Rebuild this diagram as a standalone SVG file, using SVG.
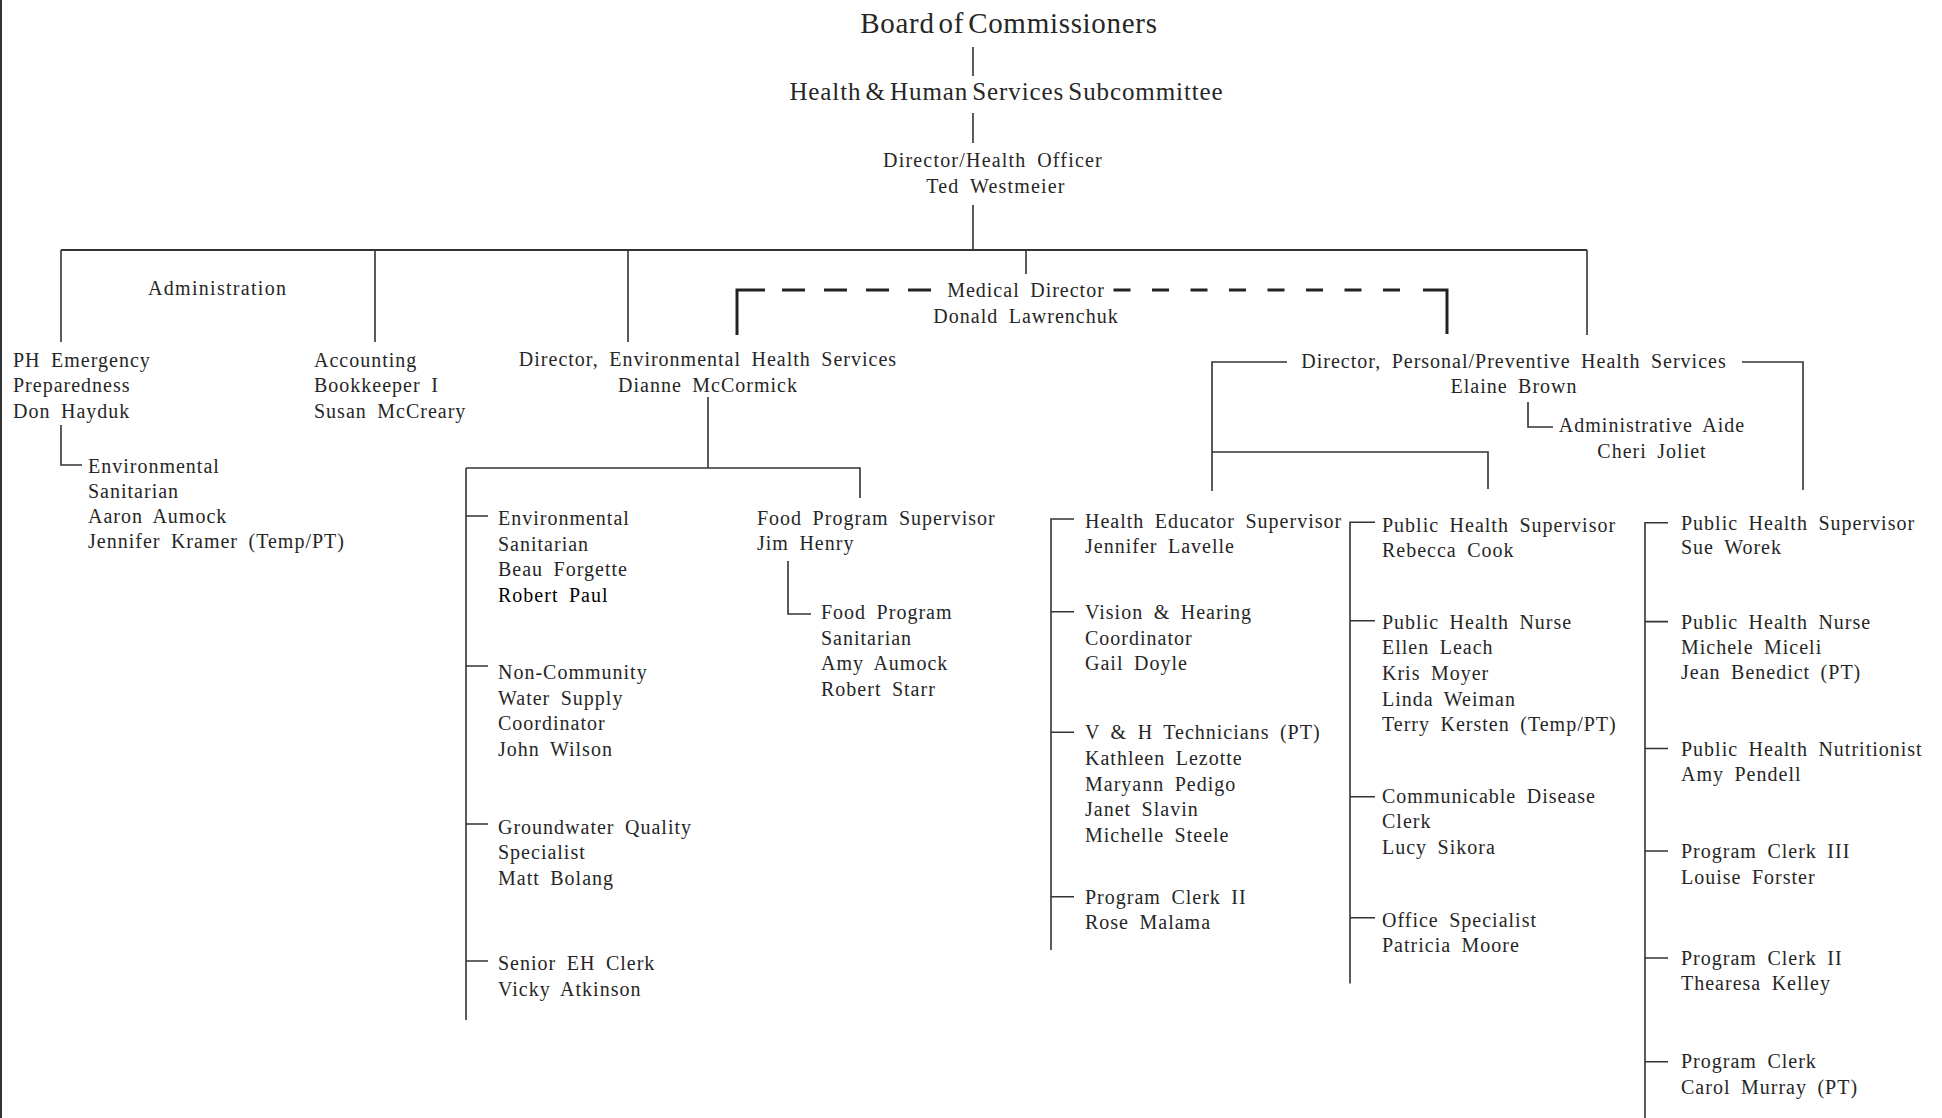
<svg xmlns="http://www.w3.org/2000/svg" width="1942" height="1118" viewBox="0 0 1942 1118">
<style>
.t{font-family:"Liberation Serif","Times New Roman",serif;font-size:20px;fill:#262626;letter-spacing:1px;word-spacing:4.5px}
.c{text-anchor:middle}
.ln{stroke:#333;stroke-width:1.6;fill:none}
.bar{stroke:#333;stroke-width:2;fill:none}
.dash{stroke:#222;stroke-width:3;fill:none}
</style>
<rect width="1942" height="1118" fill="#fff"/>
<g id="connectors">
<line class="bar" x1="1" y1="0" x2="1" y2="1118"/>
<path class="ln" d="M973 47V76M973 113V143M973 205V250"/>
<path class="bar" d="M61 250H1587"/>
<path class="ln" d="M61 250V342M375 250V342M628 250V342M1026 250V274M1587 250V335"/>
<path class="dash" d="M737 335V290H765M1447 334V290H1423"/>
<path class="dash" d="M782 290H935" stroke-dasharray="23 19"/>
<path class="dash" d="M1400 290H1113" stroke-dasharray="17 21.5"/>
<path class="ln" d="M61 425V465H82"/>
<path class="ln" d="M708 397V468M466 468H860V498M466 468V1020"/>
<path class="ln" d="M466 516H488M466 666H488M466 824H488M466 961H488"/>
<path class="ln" d="M788 561V614H811"/>
<path class="ln" d="M1287 362H1212V491M1212 452H1488V489M1742 362H1803V490"/>
<path class="ln" d="M1528 402V427H1553"/>
<path class="ln" d="M1074 519H1051V950M1051 611.7H1074M1051 732.3H1074M1051 896.7H1074"/>
<path class="ln" d="M1375 522.3H1350V983.5M1350 620.7H1375M1350 796.7H1375M1350 917.7H1375"/>
<path class="ln" d="M1668 522.7H1645V1118M1645 621.6H1668M1645 748.5H1668M1645 851H1668M1645 958H1668M1645 1061.8H1668"/>
</g>
<g id="board"><text class="t c" x="1009" y="33" style="font-size:29px;letter-spacing:0.7px;word-spacing:-4px">Board of Commissioners</text></g>
<g id="hhs"><text class="t c" x="1006.5" y="100" style="font-size:25px;letter-spacing:0.9px;word-spacing:-3px">Health &amp; Human Services Subcommittee</text></g>
<g id="director"><text class="t c" style="letter-spacing:1.2px"><tspan x="993" y="167">Director/Health  Officer</tspan><tspan x="996" y="193">Ted Westmeier</tspan></text></g>
<g id="administration"><text class="t" x="148" y="295" style="letter-spacing:1.3px">Administration</text></g>
<g id="ph-emergency"><text class="t"><tspan x="13" y="367">PH Emergency</tspan><tspan x="13" y="392">Preparedness</tspan><tspan x="13" y="418">Don Hayduk</tspan></text></g>
<g id="env-sanitarian-admin"><text class="t"><tspan x="88" y="473">Environmental</tspan><tspan x="88" y="498">Sanitarian</tspan><tspan x="88" y="523">Aaron Aumock</tspan><tspan x="88" y="548">Jennifer Kramer (Temp/PT)</tspan></text></g>
<g id="accounting"><text class="t"><tspan x="314" y="367">Accounting</tspan><tspan x="314" y="392">Bookkeeper I</tspan><tspan x="314" y="418">Susan McCreary</tspan></text></g>
<g id="dir-ehs"><text class="t c"><tspan x="708" y="366">Director, Environmental Health Services</tspan><tspan x="708" y="392">Dianne McCormick</tspan></text></g>
<g id="medical-director"><text class="t c"><tspan x="1026" y="297">Medical Director</tspan><tspan x="1026" y="323">Donald Lawrenchuk</tspan></text></g>
<g id="dir-pphs"><text class="t c"><tspan x="1514" y="368">Director, Personal/Preventive Health Services</tspan><tspan x="1514" y="393">Elaine Brown</tspan></text></g>
<g id="admin-aide"><text class="t c"><tspan x="1652" y="432">Administrative Aide</tspan><tspan x="1652" y="458">Cheri Joliet</tspan></text></g>
<g id="eh-sanitarian"><text class="t"><tspan x="498" y="525">Environmental</tspan><tspan x="498" y="551">Sanitarian</tspan><tspan x="498" y="576">Beau Forgette</tspan><tspan x="498" y="602" style="fill:#000">Robert Paul</tspan></text></g>
<g id="non-community"><text class="t"><tspan x="498" y="679">Non-Community</tspan><tspan x="498" y="705">Water Supply</tspan><tspan x="498" y="730">Coordinator</tspan><tspan x="498" y="756">John Wilson</tspan></text></g>
<g id="groundwater"><text class="t"><tspan x="498" y="834">Groundwater Quality</tspan><tspan x="498" y="859">Specialist</tspan><tspan x="498" y="885">Matt Bolang</tspan></text></g>
<g id="senior-eh-clerk"><text class="t"><tspan x="498" y="970">Senior EH Clerk</tspan><tspan x="498" y="996">Vicky Atkinson</tspan></text></g>
<g id="food-supervisor"><text class="t"><tspan x="757" y="525">Food Program Supervisor</tspan><tspan x="757" y="550">Jim Henry</tspan></text></g>
<g id="food-sanitarian"><text class="t"><tspan x="821" y="619">Food Program</tspan><tspan x="821" y="644.5">Sanitarian</tspan><tspan x="821" y="670">Amy Aumock</tspan><tspan x="821" y="695.5">Robert Starr</tspan></text></g>
<g id="health-educator"><text class="t"><tspan x="1085" y="528">Health Educator Supervisor</tspan><tspan x="1085" y="553.3">Jennifer Lavelle</tspan></text></g>
<g id="vision-hearing"><text class="t"><tspan x="1085" y="619.3">Vision &amp; Hearing</tspan><tspan x="1085" y="645">Coordinator</tspan><tspan x="1085" y="670">Gail Doyle</tspan></text></g>
<g id="vh-technicians"><text class="t"><tspan x="1085" y="739.3">V &amp; H Technicians (PT)</tspan><tspan x="1085" y="765">Kathleen Lezotte</tspan><tspan x="1085" y="790.7">Maryann Pedigo</tspan><tspan x="1085" y="816">Janet Slavin</tspan><tspan x="1085" y="841.7">Michelle Steele</tspan></text></g>
<g id="program-clerk-ii-a"><text class="t"><tspan x="1085" y="904">Program Clerk II</tspan><tspan x="1085" y="929">Rose Malama</tspan></text></g>
<g id="phs-cook"><text class="t"><tspan x="1382" y="531.7">Public Health Supervisor</tspan><tspan x="1382" y="556.7">Rebecca Cook</tspan></text></g>
<g id="phn-a"><text class="t"><tspan x="1382" y="629.3">Public Health Nurse</tspan><tspan x="1382" y="654.3">Ellen Leach</tspan><tspan x="1382" y="680">Kris Moyer</tspan><tspan x="1382" y="705.7">Linda Weiman</tspan><tspan x="1382" y="731">Terry Kersten (Temp/PT)</tspan></text></g>
<g id="cd-clerk"><text class="t"><tspan x="1382" y="803.3">Communicable Disease</tspan><tspan x="1382" y="828.3">Clerk</tspan><tspan x="1382" y="854">Lucy Sikora</tspan></text></g>
<g id="office-specialist"><text class="t"><tspan x="1382" y="926.7">Office Specialist</tspan><tspan x="1382" y="951.7">Patricia Moore</tspan></text></g>
<g id="phs-worek"><text class="t"><tspan x="1681" y="529.6">Public Health Supervisor</tspan><tspan x="1681" y="554">Sue Worek</tspan></text></g>
<g id="phn-b"><text class="t"><tspan x="1681" y="628.5">Public Health Nurse</tspan><tspan x="1681" y="654">Michele Miceli</tspan><tspan x="1681" y="679.3">Jean Benedict (PT)</tspan></text></g>
<g id="nutritionist"><text class="t"><tspan x="1681" y="755.8">Public Health Nutritionist</tspan><tspan x="1681" y="781">Amy Pendell</tspan></text></g>
<g id="program-clerk-iii"><text class="t"><tspan x="1681" y="858.4">Program Clerk III</tspan><tspan x="1681" y="883.6">Louise Forster</tspan></text></g>
<g id="program-clerk-ii-b"><text class="t"><tspan x="1681" y="965">Program Clerk II</tspan><tspan x="1681" y="989.8">Thearesa Kelley</tspan></text></g>
<g id="program-clerk"><text class="t"><tspan x="1681" y="1067.9">Program Clerk</tspan><tspan x="1681" y="1093.5">Carol Murray (PT)</tspan></text></g>
</svg>
